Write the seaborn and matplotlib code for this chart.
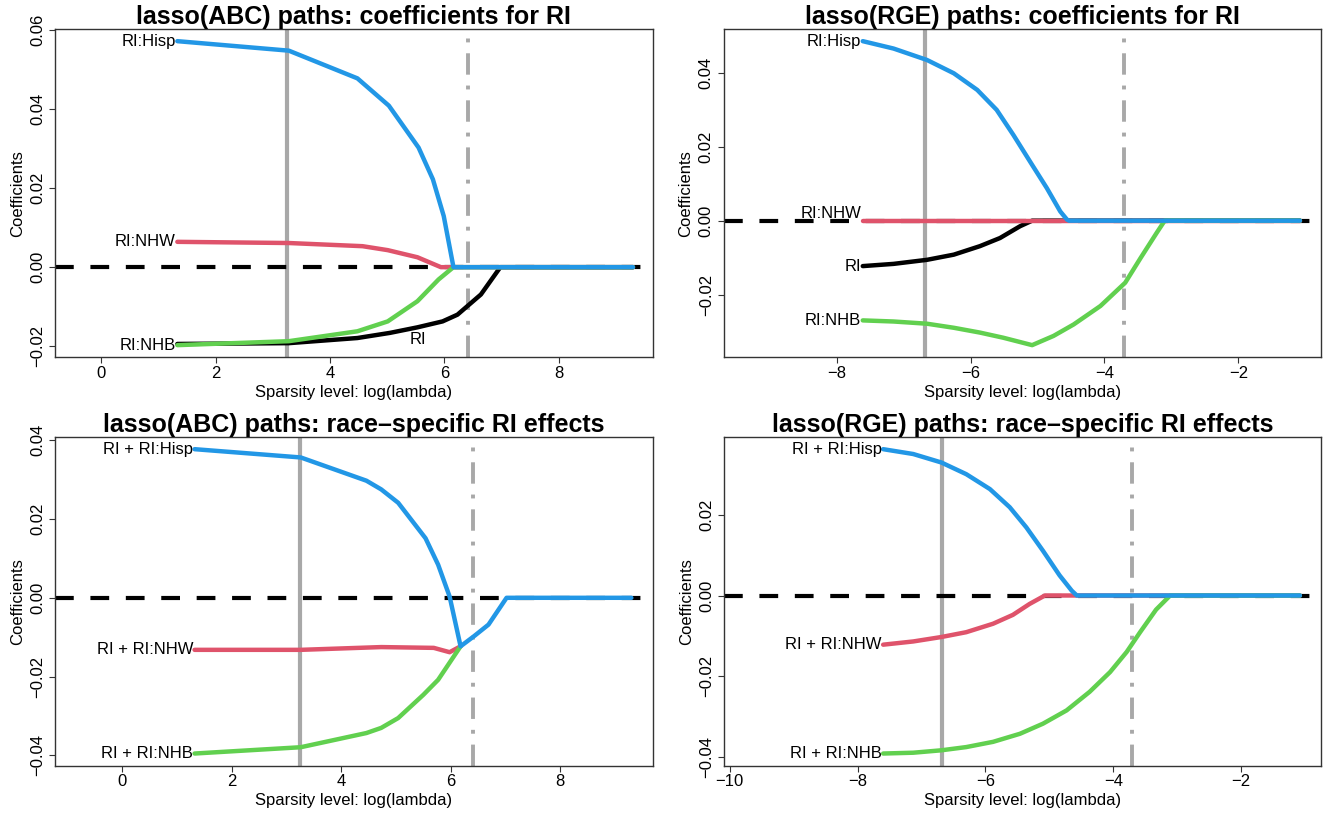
import matplotlib
matplotlib.use("Agg")
import numpy as np
import pandas as pd
import matplotlib.pyplot as plt
import seaborn as sns
from matplotlib.ticker import MultipleLocator, FuncFormatter

# colours (R 4.x default palette)
BLUE = "#2297E6"
RED = "#DF536B"
GREEN = "#61D04F"
BLACK = "#000000"
GRAY = "#A8A8A8"

# ---- lasso(ABC): coefficients for RI
abc_hisp_x = [1.33, 3.28, 4.48, 5.03, 5.55, 5.80, 5.99, 6.16, 9.30]
abc_hisp_y = [0.0571, 0.0547, 0.0477, 0.0408, 0.0302, 0.0222, 0.0129, 0.0, 0.0]
abc_nhw_x = [1.33, 3.28, 4.57, 5.01, 5.53, 5.94, 6.16, 9.30]
abc_nhw_y = [0.0064, 0.0061, 0.0053, 0.0043, 0.0025, 0.0, 0.0, 0.0]
abc_nhb_x = [1.33, 3.28, 4.48, 5.01, 5.53, 5.90, 6.16, 9.30]
abc_nhb_y = [-0.0197, -0.0187, -0.0162, -0.0137, -0.0086, -0.0031, 0.0, 0.0]
abc_ri_x = [1.33, 3.28, 4.48, 5.05, 5.53, 5.97, 6.23, 6.64, 6.98, 9.30]
abc_ri_y = [-0.0194, -0.0192, -0.0179, -0.0166, -0.0152, -0.0137, -0.0120, -0.0069, 0.0, 0.0]

# ---- lasso(RGE): coefficients for RI
rge_hisp_x = [-7.61, -7.15, -6.65, -6.25, -5.90, -5.61, -5.36, -5.08, -4.86, -4.66,
              -4.56, -4.53, -1.08]
rge_hisp_y = [0.0486, 0.0466, 0.0435, 0.0399, 0.0354, 0.0300, 0.0232, 0.0151, 0.0088,
              0.0025, 0.0003, 0.0, 0.0]
rge_nhw_x = [-7.61, -1.08]
rge_nhw_y = [0.0, 0.0]
rge_ri_x = [-7.61, -7.15, -6.65, -6.25, -5.86, -5.56, -5.26, -5.08, -1.08]
rge_ri_y = [-0.0123, -0.0117, -0.0106, -0.0092, -0.0069, -0.0047, -0.0015, 0.0, 0.0]
rge_nhb_x = [-7.61, -7.15, -6.65, -6.25, -5.86, -5.51, -5.08, -4.76, -4.46, -4.06,
             -3.69, -3.46, -3.22, -3.10, -1.08]
rge_nhb_y = [-0.0270, -0.0273, -0.0279, -0.0290, -0.0303, -0.0317, -0.0337, -0.0312,
             -0.0281, -0.0231, -0.0168, -0.0101, -0.0033, 0.0, 0.0]

# ---- lasso(ABC): race-specific RI effects
abc_eff_hisp_x = [1.32, 3.26, 4.46, 4.73, 5.04, 5.54, 5.77, 5.98, 6.18, 6.42, 6.69, 7.02, 9.30]
abc_eff_hisp_y = [0.0377, 0.0356, 0.0297, 0.0275, 0.0241, 0.0151, 0.0084, 0.0003,
                  -0.0123, -0.0098, -0.0068, 0.0, 0.0]
abc_eff_nhw_x = [1.32, 3.26, 4.73, 5.69, 5.98, 6.18]
abc_eff_nhw_y = [-0.0132, -0.0132, -0.0125, -0.0127, -0.0138, -0.0123]
abc_eff_nhb_x = [1.32, 3.26, 4.46, 4.73, 5.04, 5.50, 5.77, 6.18]
abc_eff_nhb_y = [-0.0395, -0.0379, -0.0343, -0.0330, -0.0305, -0.0246, -0.0208, -0.0123]

# ---- lasso(RGE): race-specific RI effects
rge_eff_hisp_x = [-7.60, -7.13, -6.69, -6.30, -5.93, -5.62, -5.36, -5.10, -4.84, -4.65,
                  -4.57, -1.08]
rge_eff_hisp_y = [0.0363, 0.0351, 0.0330, 0.0301, 0.0264, 0.0219, 0.0169, 0.0111, 0.0050,
                  0.0012, 0.0, 0.0]
rge_eff_nhw_x = [-7.60, -7.13, -6.69, -6.30, -5.88, -5.57, -5.31, -5.07, -1.08]
rge_eff_nhw_y = [-0.0122, -0.0114, -0.0103, -0.0091, -0.0070, -0.0048, -0.0021, 0.0, 0.0]
rge_eff_nhb_x = [-7.60, -7.13, -6.69, -6.30, -5.88, -5.46, -5.10, -4.73, -4.37, -4.05,
                 -3.79, -3.58, -3.33, -3.11, -1.08]
rge_eff_nhb_y = [-0.0392, -0.0390, -0.0384, -0.0376, -0.0363, -0.0343, -0.0318, -0.0285,
                 -0.0239, -0.0190, -0.0140, -0.0091, -0.0035, 0.0, 0.0]

# selected lambdas (solid = min, dot-dash = 1se)
abc_lambda_min, abc_lambda_1se = 3.25, 6.41
rge_lambda_min, rge_lambda_1se = -6.68, -3.71

sns.set_style("ticks")
plt.rcParams["font.family"] = ["Liberation Sans", "DejaVu Sans"]
plt.rcParams["axes.unicode_minus"] = True
for key in ["text.color", "axes.labelcolor", "xtick.color", "ytick.color", "axes.titlecolor"]:
    plt.rcParams[key] = "black"


def fmt_num(decimals):
    def f(v, pos):
        s = f"{v:.{decimals}f}"
        if float(s) == 0:
            s = f"{0:.{decimals}f}"
        return s.replace("-", "\u2212")
    return FuncFormatter(f)


def draw_panel(ax, title, series, vlines, xlim, labels_extra=()):
    ax.axvline(vlines[0], color=GRAY, lw=3, zorder=1)
    ax.axvline(vlines[1], color=GRAY, lw=2.8, ls=(0, (5.5, 2.8, 1, 2.8)), zorder=1)
    ax.axhline(0, color=BLACK, lw=3, ls=(0, (4.5, 4)), zorder=2)

    all_y = []
    for label, xs, ys, color in series:
        df = pd.DataFrame({"x": xs, "y": ys})
        sns.lineplot(data=df, x="x", y="y", color=color, lw=3.2, ax=ax,
                     sort=False, estimator=None, zorder=3)
        all_y += ys
        if label:
            ax.annotate(label, (xs[0], ys[0]), xytext=(-1, 0), textcoords="offset points",
                        ha="right", va="center", fontsize=12, zorder=4)
    for label, x, y in labels_extra:
        ax.text(x, y, label, ha="center", va="center", fontsize=12)

    lo, hi = min(all_y), max(all_y)
    pad = 0.04 * (hi - lo)
    ax.set_ylim(lo - pad, hi + pad)
    ax.set_xlim(*xlim)
    ax.xaxis.set_major_locator(MultipleLocator(2))
    ax.yaxis.set_major_locator(MultipleLocator(0.02))
    ax.xaxis.set_major_formatter(fmt_num(0))
    ax.yaxis.set_major_formatter(fmt_num(2))
    ax.tick_params(axis="both", labelsize=12, length=4.5, width=0.8, color="#333333",
                   labelcolor="black")
    ax.tick_params(axis="x", pad=1.5)
    ax.tick_params(axis="y", pad=2.5)
    for lab in ax.get_yticklabels():
        lab.set_rotation(90)
        lab.set_va("center")
    for sp in ax.spines.values():
        sp.set_visible(True)
        sp.set_color("#333333")
        sp.set_linewidth(1.0)
    ax.set_xlabel("Sparsity level: log(lambda)", fontsize=12, labelpad=3, color="black")
    ax.set_ylabel("Coefficients", fontsize=12, labelpad=4, color="black")
    ax.set_title(title, fontsize=18, fontweight="bold", pad=3, color="black")


fig, axes = plt.subplots(2, 2, figsize=(13.27, 8.14), dpi=100)
fig.patch.set_facecolor("white")

draw_panel(
    axes[0, 0], "lasso(ABC) paths: coefficients for RI",
    [("", abc_ri_x, abc_ri_y, BLACK),
     ("RI:NHW", abc_nhw_x, abc_nhw_y, RED),
     ("RI:NHB", abc_nhb_x, abc_nhb_y, GREEN),
     ("RI:Hisp", abc_hisp_x, abc_hisp_y, BLUE)],
    (abc_lambda_min, abc_lambda_1se), (-0.81, 9.645),
    labels_extra=[("RI", 5.53, -0.0183)],
)
draw_panel(
    axes[0, 1], "lasso(RGE) paths: coefficients for RI",
    [("RI", rge_ri_x, rge_ri_y, BLACK),
     ("", rge_nhw_x, rge_nhw_y, RED),
     ("RI:NHB", rge_nhb_x, rge_nhb_y, GREEN),
     ("RI:Hisp", rge_hisp_x, rge_hisp_y, BLUE)],
    (rge_lambda_min, rge_lambda_1se), (-9.69, -0.77),
)
axes[0, 1].annotate("RI:NHW", (rge_nhw_x[0], 0.002), xytext=(-1, 0), textcoords="offset points",
                    ha="right", va="center", fontsize=12, zorder=4)
draw_panel(
    axes[1, 0], "lasso(ABC) paths: race\u2013specific RI effects",
    [("RI + RI:NHW", abc_eff_nhw_x, abc_eff_nhw_y, RED),
     ("RI + RI:NHB", abc_eff_nhb_x, abc_eff_nhb_y, GREEN),
     ("RI + RI:Hisp", abc_eff_hisp_x, abc_eff_hisp_y, BLUE)],
    (abc_lambda_min, abc_lambda_1se), (-1.23, 9.69),
)
draw_panel(
    axes[1, 1], "lasso(RGE) paths: race\u2013specific RI effects",
    [("RI + RI:NHW", rge_eff_nhw_x, rge_eff_nhw_y, RED),
     ("RI + RI:NHB", rge_eff_nhb_x, rge_eff_nhb_y, GREEN),
     ("RI + RI:Hisp", rge_eff_hisp_x, rge_eff_hisp_y, BLUE)],
    (rge_lambda_min, rge_lambda_1se), (-10.09, -0.75),
)

# panel positions in figure fractions
W, H = 1327, 814
boxes = {(0, 0): (55, 29, 652.7, 357.3), (0, 1): (723.5, 29, 1320.7, 357.3),
         (1, 0): (55, 437, 652.7, 765.7), (1, 1): (724, 437, 1321, 765.7)}
for (r, c), (x0, y0, x1, y1) in boxes.items():
    axes[r, c].set_position([x0 / W, 1 - y1 / H, (x1 - x0) / W, (y1 - y0) / H])

plt.savefig("out.png", dpi=100, facecolor="white")
